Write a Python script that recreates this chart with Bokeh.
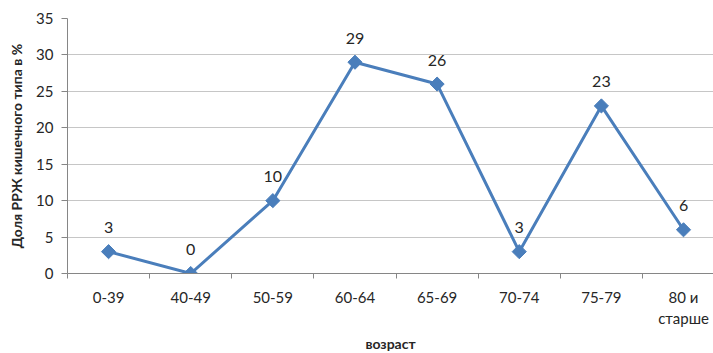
import math
from bokeh.plotting import figure
from bokeh.models import FixedTicker, Range1d, LinearAxis, Title
from bokeh.embed import file_html
from bokeh.resources import INLINE
from bokeh.core.properties import value

# Age groups and share of intestinal-type gastric cancer (%)
categories = ["0-39", "40-49", "50-59", "60-64", "65-69", "70-74", "75-79", "80 и\nстарше"]
shares = [3, 0, 10, 29, 26, 3, 23, 6]
y_ticks = [0, 5, 10, 15, 20, 25, 30, 35]

FONT = "Lato"
LINE = "#4a7ebb"
AXIS = "#868686"
GRID = "#c6c6c6"
TEXT = "#262626"

xs = [i + 0.5 for i in range(len(categories))]

p = figure(
    width=713, height=353,
    output_backend="svg", toolbar_location=None,
    x_range=Range1d(0, 7.865), y_range=Range1d(0, 35),
    min_border_left=67, min_border_right=0, min_border_top=18, min_border_bottom=80,
    x_axis_location=None, y_axis_location=None,
)
p.outline_line_color = None
p.background_fill_color = "white"
p.border_fill_color = "white"

# category axis: labels at centres, tick marks between groups
xaxis = LinearAxis(
    ticker=FixedTicker(ticks=xs, minor_ticks=list(range(len(categories) + 1))),
    major_label_overrides={x: c for x, c in zip(xs, categories)},
)
xaxis.axis_line_color = AXIS
xaxis.major_tick_line_color = None
xaxis.major_tick_in = 0
xaxis.major_tick_out = 0
xaxis.minor_tick_line_color = AXIS
xaxis.minor_tick_in = 0
xaxis.minor_tick_out = 5
xaxis.major_label_standoff = 9
xaxis.major_label_text_font = FONT
xaxis.major_label_text_font_size = "15px"
xaxis.major_label_text_color = TEXT
p.add_layout(xaxis, "below")

# x axis title under the category labels
p.add_layout(Title(text="возраст", align="center", standoff=4,
                   text_font=FONT, text_font_style="bold", text_font_size="14px",
                   text_color=TEXT), "below")

yaxis = LinearAxis(ticker=FixedTicker(ticks=y_ticks))
yaxis.axis_line_color = AXIS
yaxis.major_tick_line_color = AXIS
yaxis.major_tick_in = 0
yaxis.major_tick_out = 6
yaxis.minor_tick_line_color = None
yaxis.major_label_standoff = 8
yaxis.major_label_text_font = FONT
yaxis.major_label_text_font_size = "15px"
yaxis.major_label_text_color = TEXT
yaxis.axis_label = "Доля РРЖ кишечного типа в %"
yaxis.axis_label_text_font = FONT
yaxis.axis_label_text_font_style = "bold"
yaxis.axis_label_text_font_size = "14px"
yaxis.axis_label_text_color = TEXT
yaxis.axis_label_standoff = 8
p.add_layout(yaxis, "left")

p.ygrid.ticker = FixedTicker(ticks=y_ticks)
p.ygrid.grid_line_color = GRID
p.xgrid.grid_line_color = None

p.line(xs, shares, line_color=LINE, line_width=3)
p.scatter(xs, shares, marker="square", angle=math.pi / 4, size=10,
          fill_color=LINE, line_color=LINE, line_width=1)
p.text(xs, shares, text=[str(v) for v in shares], text_align="center", text_baseline="middle",
       y_offset=-24, text_font=value(FONT), text_font_size="16px", text_color=TEXT)

open("out.html", "w").write(file_html(p, INLINE))
